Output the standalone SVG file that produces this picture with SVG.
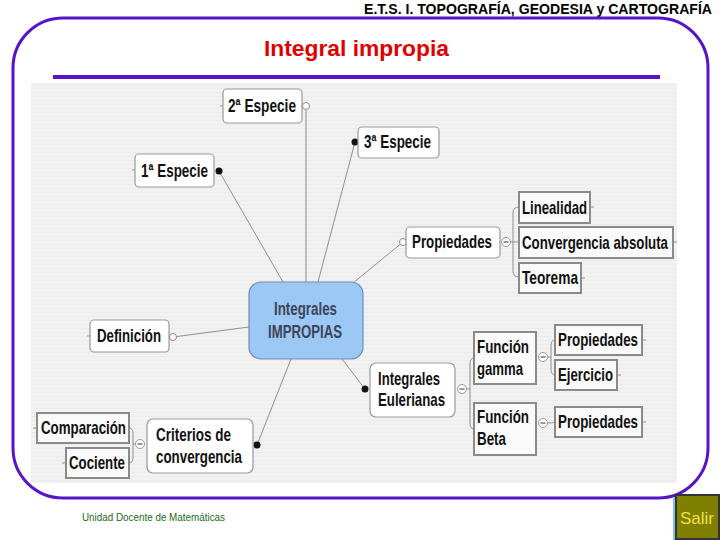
<svg xmlns="http://www.w3.org/2000/svg" width="720" height="540" viewBox="0 0 720 540">
<defs>
<style>
.t{font-family:"Liberation Sans",Arial,sans-serif;font-weight:bold;font-size:19px;fill:#111}
.c{font-family:"Liberation Sans",Arial,sans-serif;font-weight:bold;font-size:17.5px;fill:#3c4458}
.b1{fill:#fff;stroke:#9a9a9a;stroke-width:1.2}
.b2{fill:#fafafa;stroke:#8a8a8a;stroke-width:2}
.ln{fill:none;stroke:#8f8f8f;stroke-width:1}
.dot{fill:#111}
.oc{fill:#fff;stroke:#8a8a8a;stroke-width:1}
.col{fill:#fff;stroke:#9a9a9a;stroke-width:1}
.mn{stroke:#555;stroke-width:1.2}
</style>
<pattern id="stripes" width="4" height="4" patternUnits="userSpaceOnUse">
<rect width="4" height="4" fill="#f2f2f2"/>
<rect width="4" height="1" fill="#ececec"/>
</pattern>
</defs>
<rect width="720" height="540" fill="#fff"/>
<text x="364" y="14" font-family="Liberation Sans,Arial,sans-serif" font-weight="bold" font-size="14" textLength="348" lengthAdjust="spacingAndGlyphs" fill="#000">E.T.S. I. TOPOGRAFÍA, GEODESIA y CARTOGRAFÍA</text>
<rect x="13" y="18" width="695" height="480" rx="50" ry="50" fill="none" stroke="#5a14c8" stroke-width="3"/>
<text x="264" y="56" font-family="Liberation Sans,Arial,sans-serif" font-weight="bold" font-size="21.5" textLength="185" lengthAdjust="spacingAndGlyphs" fill="#e00000">Integral impropia</text>
<rect x="53" y="75" width="607" height="4" fill="#5a14c8"/>
<rect x="31" y="83" width="646" height="400" fill="url(#stripes)"/>

<g id="connectors">
<path class="ln" d="M306,110 V282"/>
<path class="ln" d="M219,171 L283,282"/>
<path class="ln" d="M355,142 L318,282"/>
<path class="ln" d="M403,242 L353,283"/>
<path class="ln" d="M173,337 L249,327"/>
<path class="ln" d="M257,445 L291,359"/>
<path class="ln" d="M365,389 L342,359"/>
<path class="ln" d="M511,242 H519 M519,207 Q513,207 513,213 V271 Q513,277 519,277"/>
<path class="ln" d="M467,389 H470 M474,358 Q470,358 470,364 V423 Q470,429 474,429"/>
<path class="ln" d="M548,357 H551 M555,340 Q551,340 551,346 V369 Q551,375 555,375"/>
<path class="ln" d="M548,423 Q552,423 555,422"/>
<path class="ln" d="M135,444 H133 M129,428 Q133,428 133,434 V457 Q133,463 129,463"/>
<path class="ln" d="M220,106 H223 M132,170 H135 M355,142 H358 M87,336 H90 M590,207 H594 M673,242 H677 M581,278 H585 M642,340 H646 M617,375 H621 M642,422 H646 M33,428 H37 M62,463 H66"/>
<circle class="oc" cx="306" cy="106" r="3.5"/>
<circle class="dot" cx="219" cy="171" r="3.5"/>
<circle class="dot" cx="355" cy="142" r="3.5"/>
<circle class="oc" cx="403" cy="242" r="3.5"/>
<circle class="oc" cx="173" cy="337" r="3.5"/>
<circle class="dot" cx="257" cy="445" r="3.5"/>
<circle class="dot" cx="365" cy="389" r="3.5"/>
</g>

<g id="center">
<rect x="249" y="282" width="114" height="77" rx="12" ry="12" fill="#9cc8f6" stroke="#6a8ebc" stroke-width="1.2"/>
<text class="c" x="274" y="315" textLength="63" lengthAdjust="spacingAndGlyphs">Integrales</text>
<text class="c" x="268" y="338" textLength="74" lengthAdjust="spacingAndGlyphs">IMPROPIAS</text>
</g>
<g id="n2especie">
<rect class="b1" x="223" y="89" width="79" height="34" rx="4"/>
<text class="t" x="228" y="112" textLength="68" lengthAdjust="spacingAndGlyphs">2ª Especie</text>
</g>
<g id="n1especie">
<rect class="b1" x="135" y="154" width="79" height="33" rx="4"/>
<text class="t" x="141" y="177" textLength="67" lengthAdjust="spacingAndGlyphs">1ª Especie</text>
</g>
<g id="n3especie">
<rect class="b1" x="358" y="127" width="81" height="31" rx="4"/>
<text class="t" x="364" y="148" textLength="67" lengthAdjust="spacingAndGlyphs">3ª Especie</text>
</g>
<g id="propiedades">
<rect class="b1" x="406" y="227" width="94" height="31" rx="4"/>
<text class="t" x="412" y="248" textLength="80" lengthAdjust="spacingAndGlyphs">Propiedades</text>
<circle class="col" cx="506" cy="242" r="4.5"/><path class="mn" d="M503.5,242 H508.5"/>
</g>
<g id="linealidad">
<rect class="b2" x="519" y="192" width="71" height="31"/>
<text class="t" x="522" y="214" textLength="65" lengthAdjust="spacingAndGlyphs">Linealidad</text>
</g>
<g id="convabs">
<rect class="b2" x="519" y="227" width="154" height="31"/>
<text class="t" x="522" y="248.5" font-size="18" textLength="146" lengthAdjust="spacingAndGlyphs">Convergencia absoluta</text>
</g>
<g id="teorema">
<rect class="b2" x="519" y="263" width="62" height="30"/>
<text class="t" x="522" y="284" textLength="56" lengthAdjust="spacingAndGlyphs">Teorema</text>
</g>
<g id="definicion">
<rect class="b1" x="90" y="320" width="79" height="32" rx="4"/>
<text class="t" x="97" y="342" textLength="64" lengthAdjust="spacingAndGlyphs">Definición</text>
</g>
<g id="eulerianas">
<rect class="b1" x="370" y="363" width="85" height="54" rx="6"/>
<text class="t" x="378" y="385" textLength="62" lengthAdjust="spacingAndGlyphs">Integrales</text>
<text class="t" x="378" y="406" textLength="67" lengthAdjust="spacingAndGlyphs">Eulerianas</text>
<circle class="col" cx="462" cy="389" r="4.5"/><path class="mn" d="M459.5,389 H464.5"/>
</g>
<g id="gamma">
<rect class="b2" x="474" y="332" width="62" height="52"/>
<text class="t" x="477" y="353" textLength="52" lengthAdjust="spacingAndGlyphs">Función</text>
<text class="t" x="477" y="375" textLength="46" lengthAdjust="spacingAndGlyphs">gamma</text>
<circle class="col" cx="543" cy="357" r="4.5"/><path class="mn" d="M540.5,357 H545.5"/>
</g>
<g id="propgamma">
<rect class="b2" x="555" y="325" width="87" height="30"/>
<text class="t" x="558" y="346" textLength="80" lengthAdjust="spacingAndGlyphs">Propiedades</text>
</g>
<g id="ejercicio">
<rect class="b2" x="555" y="360" width="62" height="30"/>
<text class="t" x="558" y="381" textLength="55" lengthAdjust="spacingAndGlyphs">Ejercicio</text>
</g>
<g id="beta">
<rect class="b2" x="474" y="403" width="62" height="52"/>
<text class="t" x="477" y="423" textLength="52" lengthAdjust="spacingAndGlyphs">Función</text>
<text class="t" x="477" y="445" textLength="29" lengthAdjust="spacingAndGlyphs">Beta</text>
<circle class="col" cx="543" cy="423" r="4.5"/><path class="mn" d="M540.5,423 H545.5"/>
</g>
<g id="propbeta">
<rect class="b2" x="555" y="407" width="87" height="30"/>
<text class="t" x="558" y="428" textLength="80" lengthAdjust="spacingAndGlyphs">Propiedades</text>
</g>
<g id="criterios">
<rect class="b1" x="147" y="419" width="106" height="54" rx="6"/>
<text class="t" x="156" y="441" textLength="75" lengthAdjust="spacingAndGlyphs">Criterios de</text>
<text class="t" x="156" y="463" textLength="86" lengthAdjust="spacingAndGlyphs">convergencia</text>
<circle class="col" cx="140" cy="444" r="4.5"/><path class="mn" d="M137.5,444 H142.5"/>
</g>
<g id="comparacion">
<rect class="b2" x="37" y="413" width="92" height="30"/>
<text class="t" x="41" y="434" textLength="85" lengthAdjust="spacingAndGlyphs">Comparación</text>
</g>
<g id="cociente">
<rect class="b2" x="66" y="448" width="63" height="30"/>
<text class="t" x="69" y="469" textLength="56" lengthAdjust="spacingAndGlyphs">Cociente</text>
</g>

<text x="82" y="521" font-family="Liberation Sans,Arial,sans-serif" font-size="10.5" textLength="143" lengthAdjust="spacingAndGlyphs" fill="#1a6b1a">Unidad Docente de Matemáticas</text>
<g id="salir">
<rect x="673" y="497" width="4" height="43" fill="#7cc4e4"/>
<rect x="676" y="495" width="43" height="44" fill="#808000" stroke="#333" stroke-width="2"/>
<text x="680" y="524" font-family="Liberation Sans,Arial,sans-serif" font-size="17" textLength="34" lengthAdjust="spacingAndGlyphs" fill="#f0e040">Salir</text>
</g>
</svg>
